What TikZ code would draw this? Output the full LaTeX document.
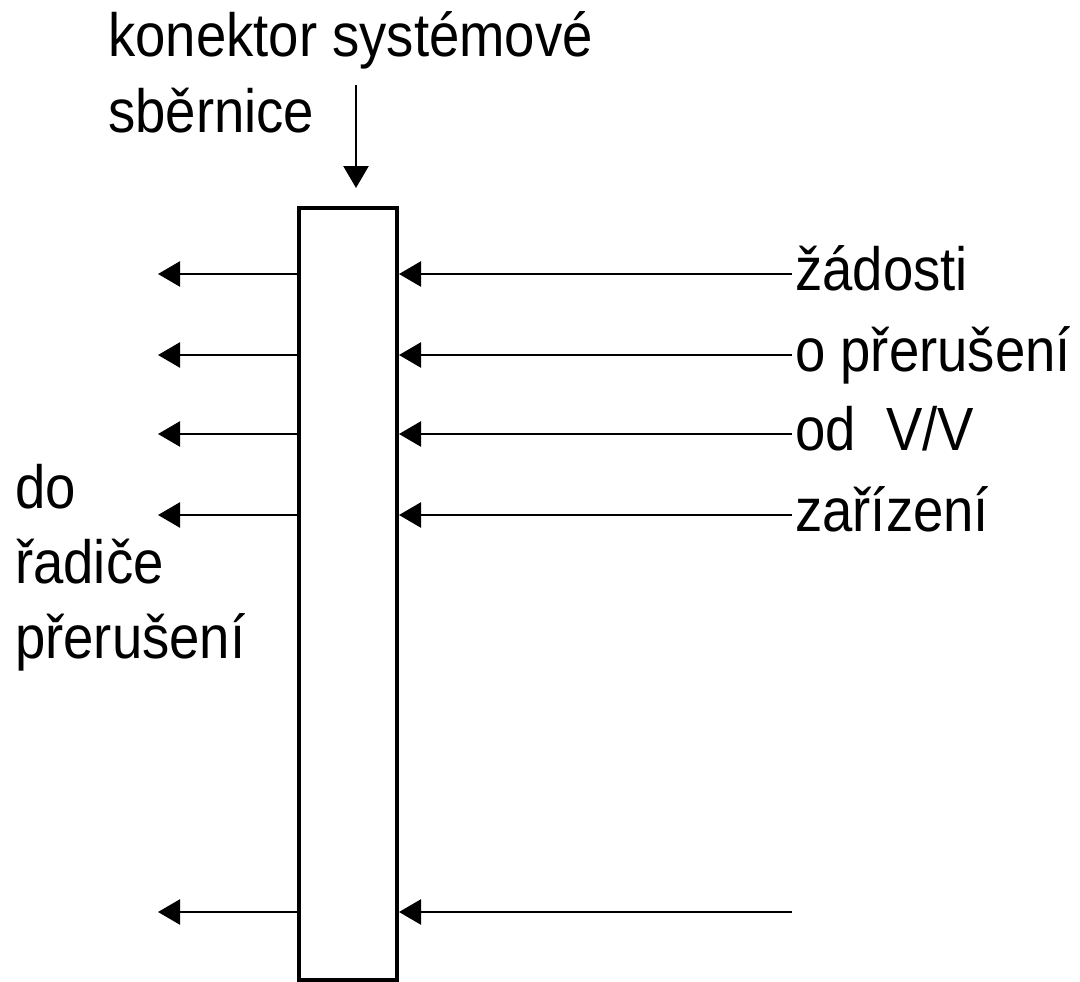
\documentclass[tikz,border=0pt]{standalone}
\usepackage{graphicx}
\usepackage{fontspec}
\setmainfont{Liberation Sans}
\usetikzlibrary{arrows.meta}
% labels are set slightly taller than the font's natural proportions
\newcommand\tallText[1]{\scalebox{1}[1.12]{#1}}

\begin{document}
\begin{tikzpicture}[x=1pt,y=-1pt,
  lbl/.style={inner sep=0pt,anchor=base west,font=\fontsize{54.5}{75}\selectfont},
  sig/.style={line width=2.5pt,-{Triangle[length=22pt,width=25pt]}},
  busbox/.style={draw,line width=4pt,minimum width=98pt,minimum height=772pt,inner sep=0pt}]
  \useasboundingbox (0,0) rectangle (1080,982);

  % system bus connector block
  \node[busbox] (bus) at (348,594) {};

  % caption above the block with its arrow
  \node[lbl] (cap1) at (108,57) {\tallText{konektor systémové}};
  \node[lbl] (cap2) at (108,132) {\tallText{sběrnice}};
  \coordinate (topS) at (356,85);
  \coordinate (topT) at (356,188);
  \draw[sig] (topS) -- (topT);

  % outputs to the interrupt controller
  \foreach \i/\y in {1/274,2/355,3/434,4/515,5/912}{
    \coordinate (l\i) at (158,\y);
    \draw[sig] (bus.west |- l\i) -- (l\i);
  }
  \node[lbl] (do1) at (15,508) {\tallText{do}};
  \node[lbl] (do2) at (15,583) {\tallText{řadiče}};
  \node[lbl] (do3) at (15,658) {\tallText{přerušení}};

  % interrupt requests from I/O devices
  \foreach \i/\y in {1/274,2/355,3/434,4/515,5/912}{
    \coordinate (r\i) at (792,\y);
    \draw[sig] (r\i) -- (bus.east |- r\i);
  }
  \node[lbl] (q1) at (795,290) {\tallText{žádosti}};
  \node[lbl] (q2) at (795,371) {\tallText{o přerušení}};
  \node[lbl] (q3) at (795,450) {\tallText{od\ \ V/V}};
  \node[lbl] (q4) at (795,531) {\tallText{zařízení}};
\end{tikzpicture}
\end{document}
